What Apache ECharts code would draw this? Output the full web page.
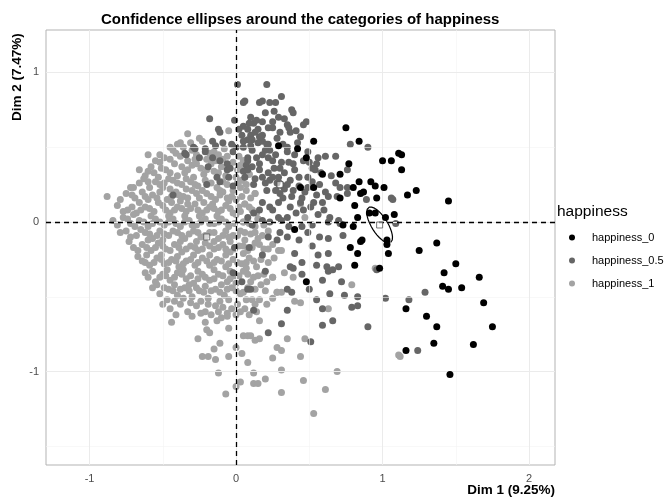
<!DOCTYPE html>
<html><head><meta charset="utf-8">
<script src="https://cdn.jsdelivr.net/npm/echarts@6/dist/echarts.min.js"></script>
<style>html,body{margin:0;padding:0;background:#fff}#c{width:672px;height:502px}</style>
</head><body><div id="c"></div><script>
const categories = ['happiness_0', 'happiness_0.5', 'happiness_1'];
const groupColors = ['#000000', '#666666', '#a3a3a3'];

const points_h0 = [[0.75,0.63],[0.29,0.51],[0.42,0.49],[0.53,0.54],[0.84,0.54],[0.48,0.43],[0.77,0.39],[1.00,0.41],[1.06,0.41],[1.11,0.46],[1.13,0.45],[0.59,0.32],[0.71,0.32],[0.44,0.23],[0.53,0.23],[0.84,0.27],[0.92,0.27],[0.95,0.24],[1.01,0.23],[0.71,0.16],[0.80,0.23],[0.85,0.19],[0.87,0.20],[0.81,0.11],[0.96,0.16],[0.83,0.03],[1.08,0.05],[0.73,-0.02],[0.80,-0.03],[0.91,0.06],[0.95,0.06],[1.02,0.03],[0.40,-0.05],[0.85,-0.13],[0.86,-0.12],[0.78,-0.17],[0.83,-0.21],[1.03,-0.12],[1.03,-0.15],[1.04,-0.21],[0.81,-0.29],[0.98,-0.31],[0.48,-0.40],[1.13,0.35],[1.17,0.18],[1.23,0.21],[1.45,0.14],[1.25,-0.19],[1.37,-0.14],[1.50,-0.28],[1.42,-0.34],[1.66,-0.37],[1.41,-0.43],[1.45,-0.45],[1.54,-0.44],[1.69,-0.54],[1.16,-0.58],[1.30,-0.63],[1.37,-0.70],[1.75,-0.70],[1.35,-0.81],[1.62,-0.82],[1.16,-0.86],[1.46,-1.02]];

const points_h05 = [[0.01,0.92],[0.05,0.80],[-0.18,0.69],[-0.01,0.68],[-0.12,0.62],[0.05,0.64],[0.04,0.58],[-0.29,0.50],[-0.21,0.49],[-0.14,0.51],[-0.09,0.53],[-0.03,0.52],[0.00,0.50],[0.08,0.55],[-0.25,0.43],[-0.19,0.37],[-0.06,0.35],[-0.05,0.30],[-0.20,0.25],[-0.02,0.24],[-0.43,0.18],[-0.35,0.46],
[0.16,0.80],[-0.11,0.60],[0.12,0.66],[0.18,0.67],[0.15,0.62],[0.22,0.63],[0.10,0.58],[0.11,0.55],[-0.16,0.54],[-0.02,0.47],[-0.21,0.47],[-0.28,0.49],[0.05,0.50],[0.11,0.48],[0.18,0.54],[0.21,0.52],[0.18,0.45],[0.22,0.43],[0.25,0.41],[-0.16,0.43],[-0.11,0.41],[0.08,0.43],[0.07,0.38],[0.11,0.37],[-0.06,0.39],[-0.04,0.36],[0.05,0.34],[0.06,0.30],[0.16,0.35],[0.18,0.30],[-0.13,0.30],[-0.11,0.27],[0.23,0.28],
[0.21,0.92],[0.06,0.81],[0.18,0.81],[0.23,0.80],[0.27,0.80],[0.31,0.84],[0.20,0.73],[0.14,0.68],[0.38,0.75],[0.39,0.73],[0.29,0.70],[0.48,0.67],[0.46,0.65],[0.09,0.66],[0.25,0.67],[0.25,0.63],[0.35,0.65],[0.36,0.63],[0.08,0.62],[0.13,0.60],[0.18,0.58],[0.16,0.57],[0.44,0.57],[0.37,0.60],[0.28,0.56],[0.78,0.52],[0.90,0.50],[0.05,0.54],[0.10,0.51],[0.22,0.52],[0.23,0.48],[0.35,0.50],[0.35,0.47],[0.49,0.47],[0.56,0.43],[0.55,0.39],[0.61,0.44],[0.68,0.44],[0.46,0.41],[0.39,0.39],[0.40,0.35],[0.31,0.40],[0.30,0.36],[0.14,0.43],[0.16,0.39],[0.08,0.41],[0.08,0.35],[0.22,0.33],[0.25,0.30],[0.52,0.36],[0.54,0.35],[0.65,0.31],[0.76,0.35],[0.49,0.30],[0.37,0.28],[0.35,0.25],[0.29,0.30],[0.28,0.26],[0.68,0.26],[0.71,0.23],[0.57,0.25],[0.49,0.23],[0.47,0.20],[0.63,0.17],[0.76,0.23],[0.76,0.19],[0.69,0.17],[0.39,0.21],[0.38,0.17],[0.20,0.26],[0.21,0.21],[0.13,0.29],[0.12,0.25],[0.30,0.19],[0.29,0.13],[0.32,0.16],[0.18,0.13],[0.16,0.08],[0.23,0.10],[0.25,0.08],[0.37,0.10],[0.35,0.03],[0.45,0.16],[0.44,0.13],[0.51,0.10],[0.53,0.13],[0.59,0.13],[0.89,0.15],[1.06,0.16],[0.64,0.03],[0.63,0.00],[0.70,0.01],[0.71,-0.01],[0.52,-0.02],[0.29,0.03],[0.31,0.01],[0.12,0.06],[0.08,0.03],[0.18,0.01],[0.23,0.00],
[0.30,-0.07],[0.49,-0.07],[0.57,-0.10],[0.63,-0.11],[0.73,-0.09],[0.63,-0.21],[0.55,-0.29],[0.62,-0.30],[0.63,-0.33],[0.66,-0.32],[0.45,-0.27],[0.40,-0.21],[0.37,-0.30],[0.39,-0.31],[0.59,-0.39],[0.35,-0.45],[0.38,-0.47],[0.64,-0.48],[0.74,-0.49],[0.83,-0.50],[0.79,-0.57],[0.83,-0.56],[0.59,-0.58],[0.66,-0.66],[0.59,-0.69],[0.90,-0.70],[1.02,-0.51],[0.31,-0.68],[0.22,-0.74],[0.51,-0.80],[0.12,-0.59],[0.04,-0.40],[0.10,-0.45],[0.18,-0.22],[0.20,-0.33],[0.96,-0.32],[0.35,-0.59],
[1.07,0.15],[1.29,-0.47],[1.18,-0.52],[1.24,-0.86],[-0.34,0.45],[-0.02,-0.34],[-0.01,-0.17],[0.08,-0.45],[0.11,-0.02],[0.09,-0.17],[1.09,-0.01],
[0.02,0.62],[0.10,0.70],[0.26,0.74],[0.33,0.69],[0.41,0.61],[0.30,0.60],[0.20,0.48],[0.27,0.45],[0.32,0.52],[0.40,0.45],[0.42,0.53],[0.15,0.53],[0.33,0.33],[0.43,0.30],[0.50,0.40],[0.36,0.40],[0.26,0.36],[0.27,0.21],[0.33,0.22],[0.43,0.24],[0.52,0.27],[0.58,0.33],[0.61,0.20],[0.55,0.18],[0.41,0.06],[0.46,0.08],[0.56,0.05],[0.60,0.08],[0.36,-0.03],[0.45,-0.03],[0.22,-0.10],[0.28,-0.12],[0.35,-0.10],[0.43,-0.12],[0.52,-0.16],[0.56,-0.22],[0.45,-0.35],[0.50,-0.45],[0.55,-0.52],[0.70,-0.30],[0.72,-0.40]];

const points_h1 = [[-0.33,0.59],[-0.25,0.56],[-0.23,0.54],[-0.05,0.61],[-0.40,0.52],
[-0.43,0.48],[-0.41,0.46],[-0.60,0.45],[-0.30,0.48],[-0.36,0.50],[-0.15,0.47],[-0.08,0.49],
[-0.49,0.43],[-0.33,0.41],[-0.28,0.42],[-0.38,0.44],[-0.20,0.42],[-0.06,0.44],[0.02,0.44],[-0.12,0.45],
[-0.58,0.37],[-0.66,0.35],[-0.48,0.35],[-0.37,0.37],[-0.42,0.39],[-0.30,0.38],[-0.24,0.36],[-0.17,0.39],[-0.10,0.37],[-0.02,0.40],[0.05,0.41],[0.01,0.35],
[-0.63,0.29],[-0.62,0.31],[-0.53,0.30],[-0.45,0.33],[-0.40,0.31],[-0.35,0.33],[-0.29,0.30],[-0.22,0.32],[-0.15,0.34],[-0.07,0.31],[0.00,0.30],[0.09,0.32],[-0.56,0.33],
[-0.72,0.23],[-0.70,0.23],[-0.59,0.23],[-0.55,0.27],[-0.49,0.26],[-0.43,0.28],[-0.37,0.25],[-0.31,0.27],[-0.26,0.24],[-0.17,0.26],[-0.13,0.23],[-0.06,0.25],[0.04,0.28],[0.03,0.23],
[-0.45,0.22],[-0.34,0.22],[-0.23,0.21],[-0.11,0.21],[-0.50,0.23],[-0.02,0.21],
[-0.64,0.20],[-0.88,0.17],[-0.79,0.15],[-0.69,0.16],[-0.57,0.18],[-0.52,0.20],[-0.47,0.15],[-0.41,0.20],[-0.36,0.17],[-0.30,0.21],[-0.25,0.16],[-0.20,0.19],[-0.14,0.15],[-0.09,0.20],[-0.03,0.17],[0.00,0.15],[0.13,0.19],[0.07,0.21],[-0.60,0.15],
[-0.66,0.13],[-0.44,0.13],[-0.38,0.14],[-0.33,0.12],[-0.22,0.13],[-0.16,0.12],[-0.05,0.14],[0.02,0.10],
[-0.81,0.11],[-0.74,0.08],[-0.68,0.06],[-0.62,0.10],[-0.56,0.07],[-0.50,0.11],[-0.45,0.06],[-0.40,0.10],[-0.34,0.07],[-0.28,0.12],[-0.23,0.06],[-0.18,0.10],[-0.12,0.07],[-0.07,0.11],[-0.02,0.06],[0.06,0.12],[0.11,0.08],[-0.53,0.13],
[-0.58,0.04],[-0.46,0.04],[-0.35,0.04],[-0.25,0.04],[-0.13,0.04],[0.00,0.05],
[-0.77,0.03],[-0.81,-0.02],[-0.72,-0.01],[-0.66,0.01],[-0.60,-0.03],[-0.55,0.02],[-0.49,-0.02],[-0.43,0.02],[-0.38,-0.03],[-0.32,0.01],[-0.27,-0.02],[-0.21,0.02],[-0.15,-0.01],[-0.10,0.02],[-0.05,-0.03],[0.05,0.00],[0.15,0.02],[0.19,-0.02],[-0.70,0.05],
[-0.75,-0.06],[-0.68,-0.09],[-0.62,-0.07],[-0.57,-0.11],[-0.52,-0.06],[-0.46,-0.09],[-0.40,-0.07],[-0.35,-0.11],[-0.29,-0.06],[-0.24,-0.10],[-0.18,-0.07],[-0.12,-0.11],[-0.07,-0.06],[-0.02,-0.09],[0.03,-0.06],[0.10,-0.08],[0.15,-0.11],[0.22,-0.06],
[-0.60,-0.12],[-0.50,-0.12],[-0.38,-0.13],[-0.27,-0.13],[-0.15,-0.13],[-0.04,-0.13],[0.06,-0.12],
[-0.70,-0.17],[-0.64,-0.15],[-0.58,-0.19],[-0.53,-0.14],[-0.48,-0.18],[-0.42,-0.15],[-0.37,-0.20],[-0.31,-0.16],[-0.26,-0.19],[-0.21,-0.14],[-0.15,-0.18],[-0.09,-0.15],[-0.04,-0.20],[0.02,-0.16],[0.08,-0.19],[0.13,-0.14],[0.25,-0.15],[0.29,-0.19],[0.31,-0.19],[0.19,-0.18],
[-0.61,-0.22],[-0.51,-0.22],[-0.40,-0.23],[-0.29,-0.22],[-0.18,-0.22],[-0.07,-0.22],[0.05,-0.21],
[-0.64,-0.26],[-0.59,-0.29],[-0.54,-0.24],[-0.49,-0.28],[-0.44,-0.25],[-0.39,-0.30],[-0.34,-0.26],[-0.28,-0.29],[-0.23,-0.24],[-0.18,-0.29],[-0.13,-0.25],[-0.07,-0.30],[-0.02,-0.25],[0.04,-0.28],[0.09,-0.24],[0.14,-0.30],[0.22,-0.27],
[-0.57,-0.33],[-0.47,-0.32],[-0.36,-0.32],[-0.26,-0.33],[-0.15,-0.32],[-0.04,-0.33],[0.07,-0.31],
[-0.60,-0.37],[-0.55,-0.40],[-0.50,-0.35],[-0.45,-0.39],[-0.40,-0.34],[-0.34,-0.38],[-0.29,-0.41],[-0.23,-0.35],[-0.18,-0.39],[-0.12,-0.35],[-0.06,-0.40],[-0.01,-0.36],[0.05,-0.33],[0.15,-0.36],[0.25,-0.37],[0.33,-0.34],[0.39,-0.37],[0.10,-0.40],
[-0.42,-0.42],[-0.32,-0.42],[-0.21,-0.43],[-0.10,-0.42],[0.00,-0.41],
[-0.57,-0.44],[-0.52,-0.48],[-0.46,-0.45],[-0.40,-0.49],[-0.35,-0.44],[-0.30,-0.50],[-0.25,-0.46],[-0.19,-0.51],[-0.14,-0.45],[-0.08,-0.49],[-0.03,-0.44],[0.03,-0.48],[0.08,-0.44],[0.11,-0.52],[0.16,-0.52],[0.25,-0.51],[0.28,-0.47],[0.31,-0.47],[0.20,-0.46],
[-0.50,-0.55],[-0.45,-0.58],[-0.38,-0.55],[-0.33,-0.60],[-0.27,-0.56],[-0.14,-0.56],[-0.09,-0.57],[-0.03,-0.58],[0.00,-0.62],[0.40,-0.53],[0.44,-0.54],[0.06,-0.58],[-0.21,-0.60],
[-0.44,-0.67],[-0.21,-0.67],[-0.13,-0.66],[-0.10,-0.64],[-0.06,-0.63],[-0.05,-0.71],[0.16,-0.66],[-0.20,-0.72],[-0.18,-0.74],[0.63,-0.58],
[-0.26,-0.78],[-0.11,-0.81],[-0.15,-0.85],[0.05,-0.76],[0.00,-0.84],[0.08,-0.76],[0.10,-0.76],[0.13,-0.79],[0.16,-0.78],[0.35,-0.78],[0.47,-0.78],[0.28,-0.84],[0.31,-0.86],
[-0.23,-0.90],[-0.19,-0.90],[-0.14,-0.92],[-0.05,-0.90],[0.04,-0.88],[0.25,-0.91],[0.44,-0.90],[0.08,-0.94],[0.31,-0.99],[0.69,-1.00],[-0.12,-1.01],[1.11,-0.89],[1.12,-0.90],
[0.12,-1.01],[0.12,-1.08],[0.15,-1.08],[0.20,-1.05],[0.03,-1.07],[0.00,-1.10],[-0.07,-1.15],[0.46,-1.06],[0.31,-1.14],[0.61,-1.12],[0.53,-1.28],
[0.79,-0.42],[0.95,-0.31],[0.47,0.03],[0.44,0.12],[0.25,-0.37],[0.28,-0.47],
[0.05,0.41],[0.09,0.32],[0.04,0.28],[0.13,0.19],[0.00,0.15],[0.06,0.12],[0.11,0.08],[0.15,0.02],[0.05,0.00],
[-0.52,0.40],[-0.45,0.42],[-0.27,0.39],[-0.14,0.41],[-0.09,0.42],
[-0.60,0.34],[-0.51,0.36],[-0.33,0.35],[-0.20,0.35],[-0.12,0.33],[0.03,0.38],
[-0.66,0.26],[-0.60,0.27],[-0.52,0.25],[-0.46,0.29],[-0.40,0.26],[-0.34,0.29],[-0.28,0.25],[-0.21,0.28],[-0.09,0.27],[0.01,0.26],[0.07,0.25],
[-0.75,0.19],[-0.71,0.18],[-0.62,0.17],[-0.54,0.16],[-0.44,0.17],[-0.39,0.18],[-0.33,0.16],[-0.27,0.19],[-0.17,0.17],[-0.11,0.18],[-0.06,0.16],[0.04,0.17],[0.10,0.16],
[-0.77,0.07],[-0.71,0.10],[-0.65,0.08],[-0.59,0.09],[-0.48,0.08],[-0.42,0.08],[-0.37,0.09],[-0.31,0.09],[-0.26,0.08],[-0.20,0.08],[-0.15,0.09],[-0.10,0.08],[-0.04,0.09],[0.03,0.07],[0.09,0.10],[0.14,0.06],
[-0.84,0.01],[-0.74,0.02],[-0.69,-0.03],[-0.63,0.00],[-0.57,-0.01],[-0.52,0.00],[-0.46,0.00],[-0.41,-0.01],[-0.35,0.00],[-0.30,-0.02],[-0.24,0.00],[-0.18,-0.01],[-0.12,0.00],[-0.07,0.00],[-0.01,-0.01],[0.09,-0.01],[0.13,-0.03],
[-0.79,-0.07],[-0.72,-0.10],[-0.65,-0.05],[-0.59,-0.08],[-0.54,-0.09],[-0.49,-0.08],[-0.43,-0.06],[-0.37,-0.09],[-0.32,-0.08],[-0.26,-0.07],[-0.21,-0.09],[-0.15,-0.07],[-0.09,-0.09],[-0.05,-0.10],[0.01,-0.09],[0.06,-0.07],[0.13,-0.07],[0.18,-0.09],
[-0.73,-0.13],[-0.67,-0.19],[-0.61,-0.17],[-0.55,-0.17],[-0.50,-0.16],[-0.45,-0.19],[-0.39,-0.17],[-0.34,-0.18],[-0.28,-0.17],[-0.23,-0.18],[-0.18,-0.16],[-0.12,-0.17],[-0.07,-0.18],[-0.01,-0.18],[0.05,-0.16],[0.11,-0.17],[0.16,-0.15],[0.22,-0.18],
[-0.67,-0.23],[-0.62,-0.27],[-0.56,-0.27],[-0.51,-0.25],[-0.46,-0.27],[-0.41,-0.26],[-0.36,-0.28],[-0.31,-0.25],[-0.26,-0.27],[-0.20,-0.26],[-0.15,-0.27],[-0.10,-0.26],[-0.05,-0.28],[0.01,-0.27],[0.07,-0.27],[0.12,-0.26],[0.17,-0.25],[0.26,-0.24],
[-0.62,-0.34],[-0.52,-0.37],[-0.48,-0.36],[-0.42,-0.37],[-0.37,-0.35],[-0.31,-0.36],[-0.26,-0.38],[-0.21,-0.37],[-0.15,-0.38],[-0.09,-0.36],[-0.04,-0.38],[0.02,-0.36],[0.08,-0.35],[0.12,-0.37],[0.19,-0.35],[0.21,-0.40],
[-0.54,-0.42],[-0.49,-0.44],[-0.43,-0.46],[-0.38,-0.45],[-0.32,-0.46],[-0.27,-0.44],[-0.22,-0.47],[-0.17,-0.46],[-0.11,-0.47],[-0.06,-0.45],[0.00,-0.46],[0.05,-0.47],[0.13,-0.45],[0.17,-0.42],
[-0.47,-0.52],[-0.42,-0.53],[-0.36,-0.51],[-0.31,-0.54],[-0.24,-0.53],[-0.19,-0.55],[-0.11,-0.53],[-0.05,-0.52],[0.01,-0.55],[0.07,-0.52],[0.13,-0.55],[0.21,-0.55],
[-0.41,-0.62],[-0.30,-0.63],[-0.24,-0.61],[-0.17,-0.62],[-0.12,-0.60],[-0.06,-0.61],[0.03,-0.60],[0.09,-0.62],[0.14,-0.60],
[-0.45,0.50],[-0.38,0.53],[-0.31,0.53],[-0.27,0.45],[-0.18,0.46],[-0.52,0.45],[-0.55,0.41]];

const categoryMeans = [[0.98,-0.02],[0.30,0.25],[-0.20,-0.10]];
const ellipseMajor = [[0.075,-0.117],[0.025,0.0],[0.015,0.0]];
const ellipseMinor = [[0.046,0.029],[0.0,0.03],[0.0,0.015]];

const xTicks = [-1, 0, 1, 2];
const yTicks = [-1, 0, 1];
const xMinor = [-0.5, 0.5, 1.5];
const yMinor = [-1.5, -0.5, 0.5];
const xRange = [-1.297, 2.177];
const yRange = [-1.625, 1.284];

function ellipsePath(i) {
  const out = [];
  const c = categoryMeans[i], u = ellipseMajor[i], v = ellipseMinor[i];
  for (let k = 0; k <= 72; k++) {
    const t = k / 72 * 2 * Math.PI;
    out.push([c[0] + u[0]*Math.cos(t) + v[0]*Math.sin(t), c[1] + u[1]*Math.cos(t) + v[1]*Math.sin(t)]);
  }
  return out;
}

const FONT = 'Liberation Sans, Arial, sans-serif';
const chart = echarts.init(document.getElementById('c'), null, {renderer: 'canvas'});

function gridLines(vals, axis, color, width) {
  return vals.map(v => ({[axis]: v, lineStyle: {color: color, width: width, type: 'solid'}}));
}

const pointSeries = [2, 1, 0].map(i => ({
  name: categories[i],
  type: 'scatter',
  data: [points_h0, points_h05, points_h1][i],
  symbolSize: 7,
  itemStyle: {color: groupColors[i], opacity: 1},
  z: 3 + (2 - i),
  silent: true
}));

const option = {
  animation: false,
  backgroundColor: '#ffffff',
  title: [{
    text: 'Confidence ellipses around the categories of happiness',
    left: 96, top: 7,
    textStyle: {fontFamily: FONT, fontSize: 15, fontWeight: 'bold', color: '#000'}
  }, {
    text: 'happiness',
    left: 552, top: 199,
    textStyle: {fontFamily: FONT, fontSize: 15.5, fontWeight: 'normal', color: '#000'}
  }],
  legend: {
    data: categories,
    orient: 'vertical',
    left: 564, top: 227,
    icon: 'circle',
    itemWidth: 30, itemHeight: 6, itemGap: 12,
    textStyle: {fontFamily: FONT, fontSize: 11, color: '#000'}
  },
  grid: {left: 46, top: 30, width: 509, height: 435, show: true, borderColor: '#b3b3b3', borderWidth: 1, backgroundColor: '#fff'},
  xAxis: {
    type: 'value', min: xRange[0], max: xRange[1],
    axisLine: {show: false},
    splitLine: {show: false},
    axisTick: {show: true, customValues: xTicks, length: 3, lineStyle: {color: '#b3b3b3'}},
    axisLabel: {customValues: xTicks, color: '#4d4d4d', fontSize: 11, fontFamily: FONT, margin: 8}
  },
  yAxis: {
    type: 'value', min: yRange[0], max: yRange[1],
    axisLine: {show: false},
    splitLine: {show: false},
    axisTick: {show: true, customValues: yTicks, length: 3, lineStyle: {color: '#b3b3b3'}},
    axisLabel: {customValues: yTicks, color: '#4d4d4d', fontSize: 11, fontFamily: FONT, margin: 7}
  },
  graphic: [{
    type: 'text', right: 117, top: 483,
    style: {text: 'Dim 1 (9.25%)', font: 'bold 13.5px ' + FONT, fill: '#000'}
  }, {
    type: 'text', x: 17, y: 121, rotation: Math.PI / 2,
    style: {text: 'Dim 2 (7.47%)', font: 'bold 13.5px ' + FONT, fill: '#000', textAlign: 'left', textVerticalAlign: 'middle'}
  }],
  series: [
    {
      type: 'scatter', data: [], silent: true, z: 1,
      markLine: {
        silent: true, symbol: 'none', label: {show: false}, animation: false,
        data: [].concat(
          gridLines(xMinor, 'xAxis', '#f4f4f4', 0.6),
          gridLines(yMinor, 'yAxis', '#f4f4f4', 0.6),
          gridLines(xTicks, 'xAxis', '#ebebeb', 1),
          gridLines(yTicks, 'yAxis', '#ebebeb', 1)
        )
      }
    },
    pointSeries[0],
    {
      type: 'scatter', data: [], silent: true, z: 4,
      markLine: {
        silent: true, symbol: 'none', label: {show: false}, animation: false,
        lineStyle: {color: '#000', width: 1.3, type: [5, 4]},
        data: [{xAxis: 0}, {yAxis: 0}]
      }
    },
    pointSeries[1],
    pointSeries[2],
    ...[0, 1, 2].map(i => ({
      type: 'line', data: ellipsePath(i), showSymbol: false, silent: true, z: 8,
      lineStyle: {color: i === 0 ? '#000' : groupColors[i], width: 1.2}
    })),
    {
      type: 'scatter', data: categoryMeans, symbol: 'rect', symbolSize: 6, silent: true, z: 9,
      itemStyle: {color: 'rgba(255,255,255,0.7)', borderColor: '#555', borderWidth: 1}
    }
  ]
};
chart.setOption(option);
</script></body></html>
